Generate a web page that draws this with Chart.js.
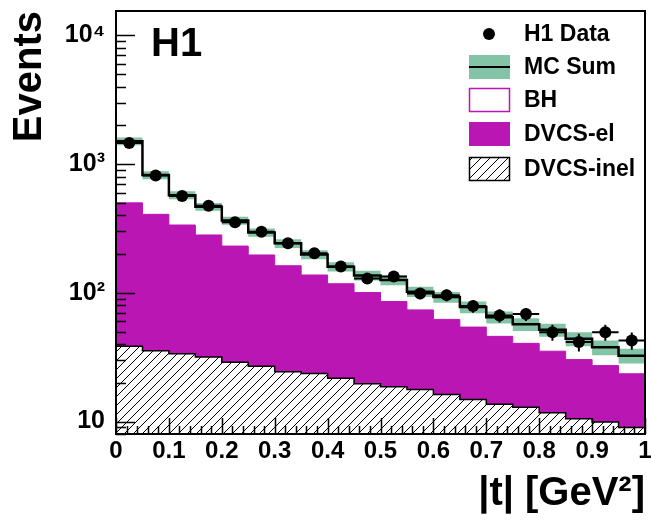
<!DOCTYPE html>
<html>
<head>
<meta charset="utf-8">
<script src="https://cdn.jsdelivr.net/npm/chart.js@4/dist/chart.umd.min.js"></script>
<style>
html, body { margin: 0; padding: 0; background: #fff; }
#chart-container { width: 651px; height: 523px; position: relative; }
</style>
</head>
<body>
<div id="chart-container"><canvas id="MainChart" width="651" height="523"></canvas></div>
<script>
// |t| bins, 0.05 wide
var binEdges = [0, 0.05, 0.1, 0.15, 0.2, 0.25, 0.3, 0.35, 0.4, 0.45, 0.5,
                0.55, 0.6, 0.65, 0.7, 0.75, 0.8, 0.85, 0.9, 0.95, 1];
var binCenters = [0.025, 0.075, 0.125, 0.175, 0.225, 0.275, 0.325, 0.375, 0.425, 0.475,
                  0.525, 0.575, 0.625, 0.675, 0.725, 0.775, 0.825, 0.875, 0.925, 0.975];

// H1 data and stat errors
var h1Events = [1462, 818, 565, 475, 353, 298, 243, 203, 160, 129,
                134, 99, 96, 79, 66.7, 68.4, 49.5, 41.5, 49.5, 42.7];
var h1Err = [38, 29, 24, 22, 19, 17, 16, 14, 13, 11,
             12, 10, 10, 9, 8, 8, 7, 6.5, 7, 6.5];

// MC components (events per bin)
var bhEvents = [1008, 415, 238, 185, 134, 98, 80, 61, 42, 36,
                40, 28.5, 30.5, 23.3, 18.8, 16.6, 16.4, 13.7, 10.5, 9.0];
var dvcsElEvents = [462, 372, 303, 250, 202, 170, 138, 114, 96, 81,
                    67, 56, 46, 39.4, 32.3, 27.6, 23.5, 19.8, 17.3, 14.5];
var dvcsInelEvents = [38.5, 35.5, 33.7, 31.7, 28.9, 26.9, 24.4, 23.6, 21.7, 19.7,
                      18.6, 17.7, 16.2, 14.8, 13.6, 12.9, 11.7, 10.5, 9.9, 9.0];
// half width of the MC Sum band
var mcSumErr = [105, 58, 40, 33, 26, 22, 19, 16, 13, 12,
                11, 9.5, 9, 8, 7, 6.5, 6, 5.5, 5, 4.3];

var yTickLabels = { 10: '10', 100: '10²', 1000: '10³', 10000: '10⁴' };

var FONT = "'Liberation Sans', Arial, Helvetica, sans-serif";
var MAGENTA = 'rgb(186, 22, 180)';
var GREEN = 'rgb(130, 196, 165)';

// stacked tops
var inelTop = dvcsInelEvents.slice();
var elTop = dvcsElEvents.map(function (v, i) { return v + inelTop[i]; });
var mcSum = bhEvents.map(function (v, i) { return v + elTop[i]; });

function steps(vals) {
    var pts = vals.map(function (v, i) { return { x: binEdges[i], y: v }; });
    pts.push({ x: binEdges[vals.length], y: vals[vals.length - 1] });
    return pts;
}

function hatch() {
    var s = 9;
    var c = document.createElement('canvas');
    c.width = s; c.height = s;
    var g = c.getContext('2d');
    g.fillStyle = '#fff';
    g.fillRect(0, 0, s, s);
    g.strokeStyle = '#000';
    g.lineWidth = 1;
    g.beginPath();
    g.moveTo(-1, s + 1); g.lineTo(s + 1, -1);
    g.moveTo(-1, 1); g.lineTo(1, -1);
    g.moveTo(s - 1, s + 1); g.lineTo(s + 1, s - 1);
    g.stroke();
    return g.createPattern(c, 'repeat');
}
var hatchFill = hatch();

var extras = {
    id: 'extras',
    afterDatasetsDraw: function (chart) {
        var ctx = chart.ctx, xs = chart.scales.x, ys = chart.scales.y, a = chart.chartArea;
        ctx.save();
        // data error bars
        ctx.strokeStyle = '#000';
        ctx.lineWidth = 2;
        h1Events.forEach(function (v, i) {
            var y = ys.getPixelForValue(v);
            ctx.beginPath();
            ctx.moveTo(xs.getPixelForValue(binEdges[i]), y);
            ctx.lineTo(xs.getPixelForValue(binEdges[i + 1]), y);
            ctx.moveTo(xs.getPixelForValue(binCenters[i]), ys.getPixelForValue(v + h1Err[i]));
            ctx.lineTo(xs.getPixelForValue(binCenters[i]), ys.getPixelForValue(v - h1Err[i]));
            ctx.stroke();
        });
        // inward ticks
        ctx.lineWidth = 1.5;
        ctx.beginPath();
        for (var d = 1; d <= 10000; d *= 10) {
            for (var m = 1; m <= 9; m++) {
                var v = d * m;
                if (v < ys.min || v > ys.max) continue;
                var py = Math.round(ys.getPixelForValue(v)) + 0.5;
                ctx.moveTo(a.left, py);
                ctx.lineTo(a.left + (m === 1 ? 19 : 10), py);
            }
        }
        for (var k = 0; k <= 50; k++) {
            var px = Math.round(xs.getPixelForValue(k / 50)) + 0.5;
            ctx.moveTo(px, a.bottom);
            ctx.lineTo(px, a.bottom - (k % 5 === 0 ? 16 : 8));
        }
        ctx.stroke();
        // frame
        ctx.lineWidth = 2;
        ctx.strokeRect(a.left, a.top, a.right - a.left, a.bottom - a.top);
        ctx.restore();
    },
    afterDraw: function (chart) {
        var ctx = chart.ctx;
        ctx.save();
        ctx.fillStyle = '#000';
        ctx.font = 'bold 40px ' + FONT;
        ctx.textBaseline = 'alphabetic';
        ctx.fillText('H1', 151, 56);

        // legend
        var bx = 469, bw = 41, bh = 24, tx = 524;
        ctx.font = 'bold 23px ' + FONT;
        ctx.textBaseline = 'middle';
        ctx.beginPath();
        ctx.arc(489, 34, 6, 0, Math.PI * 2);
        ctx.fill();
        ctx.fillText('H1 Data', tx, 35);

        ctx.fillStyle = GREEN;
        ctx.fillRect(bx, 55, bw, bh);
        ctx.strokeStyle = '#000';
        ctx.lineWidth = 2;
        ctx.beginPath(); ctx.moveTo(bx, 67); ctx.lineTo(bx + bw, 67); ctx.stroke();
        ctx.fillStyle = '#000';
        ctx.fillText('MC Sum', tx, 68);

        ctx.fillStyle = '#fff';
        ctx.fillRect(bx, 88, bw, bh);
        ctx.strokeStyle = MAGENTA;
        ctx.lineWidth = 1.5;
        ctx.strokeRect(bx + 0.5, 88.5, bw - 1, bh - 1);
        ctx.fillStyle = '#000';
        ctx.fillText('BH', tx, 101);

        ctx.fillStyle = MAGENTA;
        ctx.fillRect(bx, 122, bw, bh);
        ctx.fillStyle = '#000';
        ctx.fillText('DVCS-el', tx, 135);

        ctx.fillStyle = hatchFill;
        ctx.fillRect(bx, 157, bw, bh);
        ctx.strokeStyle = '#000';
        ctx.lineWidth = 1.5;
        ctx.strokeRect(bx + 0.5, 157.5, bw - 1, bh - 1);
        ctx.fillStyle = '#000';
        ctx.fillText('DVCS-inel', tx, 170);
        ctx.restore();
    }
};

var ctxMain = document.getElementById('MainChart').getContext('2d');
var MainChart = new Chart(ctxMain, {
    type: 'line',
    data: {
        datasets: [
            {   // H1 data
                label: 'H1 Data', order: 0,
                data: h1Events.map(function (v, i) { return { x: binCenters[i], y: v }; }),
                showLine: false, pointRadius: 6, pointBackgroundColor: '#000',
                pointBorderColor: '#000', pointBorderWidth: 0
            },
            {   // MC sum line
                label: 'MC Sum', order: 1,
                data: steps(mcSum), stepped: true, borderColor: '#000', borderWidth: 2.5,
                pointRadius: 0, fill: false
            },
            {   // band upper
                label: 'MC up', order: 2,
                data: steps(mcSum.map(function (v, i) { return v + mcSumErr[i]; })),
                stepped: true, borderWidth: 0, borderColor: GREEN, pointRadius: 0,
                fill: { target: '+1' }, backgroundColor: GREEN
            },
            {   // band lower
                label: 'MC down', order: 3,
                data: steps(mcSum.map(function (v, i) { return v - mcSumErr[i]; })),
                stepped: true, borderWidth: 0, borderColor: GREEN, pointRadius: 0, fill: false
            },
            {
                label: 'DVCS-inel', order: 4,
                data: steps(inelTop), stepped: true, borderColor: '#000', borderWidth: 1.5,
                pointRadius: 0, fill: 'start', backgroundColor: hatchFill
            },
            {
                label: 'DVCS-el', order: 5,
                data: steps(elTop), stepped: true, borderColor: MAGENTA, borderWidth: 1,
                pointRadius: 0, fill: 'start', backgroundColor: MAGENTA
            },
            {
                label: 'BH', order: 6,
                data: steps(mcSum), stepped: true, borderColor: MAGENTA, borderWidth: 1,
                pointRadius: 0, fill: 'start', backgroundColor: '#fff'
            }
        ]
    },
    options: {
        responsive: false,
        animation: false,
        events: [],
        layout: { padding: { top: 11, right: 5, left: 0, bottom: 0 } },
        plugins: { legend: { display: false }, tooltip: { enabled: false } },
        scales: {
            x: {
                type: 'linear', min: 0, max: 1,
                grid: { display: false }, border: { display: false },
                ticks: { stepSize: 0.1, color: '#000', padding: -5, maxRotation: 0,
                         font: { family: FONT, size: 24, weight: 'bold' },
                         callback: function (v) { return String(Math.round(v * 10) / 10); } },
                title: { display: true, text: '|t| [GeV²]', align: 'end', color: '#000',
                         font: { family: FONT, size: 40, weight: 'bold' },
                         padding: { top: 0, bottom: 5 } },
                afterFit: function (s) {
                    s.height = 89;
                    s.paddingLeft = 0; s.paddingRight = 0;
                }
            },
            y: {
                type: 'logarithmic', min: 8, max: 15500,
                grid: { display: false }, border: { display: false },
                ticks: { autoSkip: false, color: '#000', padding: 3,
                         font: { family: FONT, size: 25, weight: 'bold' },
                         callback: function (v) { return yTickLabels[v] || ''; } },
                title: { display: true, text: 'Events', align: 'end', color: '#000',
                         font: { family: FONT, size: 40, weight: 'bold' },
                         padding: { top: 6, bottom: 0 } },
                afterFit: function (s) {
                    s.width = 116;
                    s.paddingTop = 0; s.paddingBottom = 0;
                }
            }
        }
    },
    plugins: [extras]
});
</script>
</body>
</html>
